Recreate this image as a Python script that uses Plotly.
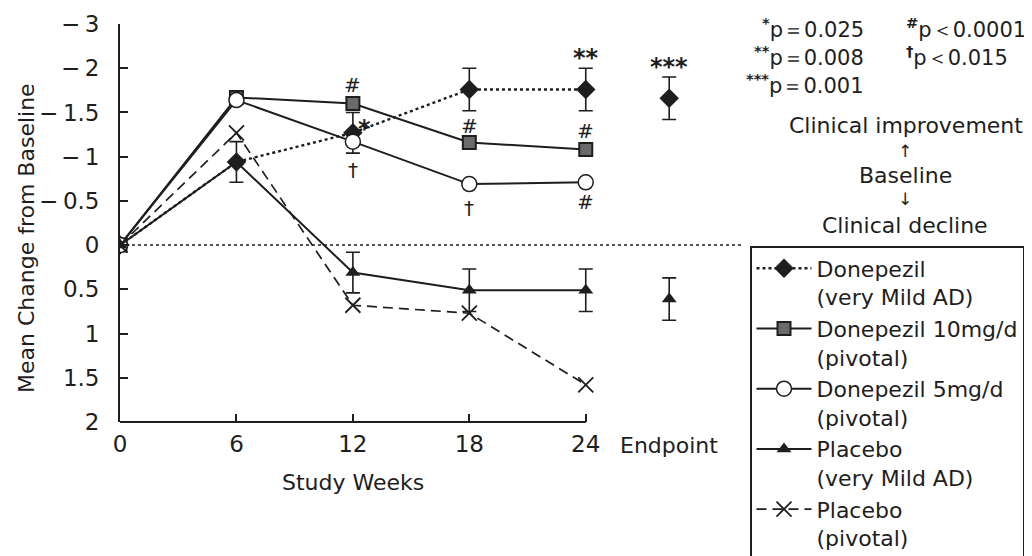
import plotly.graph_objects as go

# ---------------- data ----------------
weeks = [0, 6, 12, 18, 24]
x_tick_labels = ["0", "6", "12", "18", "24"]
endpoint_label = "Endpoint"
endpoint_week = 28.3

y_tick_vals = [-2.5, -2, -1.5, -1, -0.5, 0, 0.5, 1, 1.5, 2]
y_tick_text = ["\u2212\u20093", "\u2212\u20092", "\u2212\u20091.5", "\u2212\u20091", "\u2212\u20090.5",
               "0", "0.5", "1", "1.5", "2"]

don_mild = [0, -0.94, -1.27, -1.76, -1.76]
don_mild_err = [None, 0.23, 0.23, 0.24, 0.24]
don_mild_end = -1.66
don_mild_end_err = 0.24

don_10 = [0, -1.67, -1.60, -1.16, -1.08]
don_5 = [0, -1.64, -1.17, -0.69, -0.71]

plc_mild = [0, -0.94, 0.31, 0.51, 0.51]
plc_mild_err = [None, None, 0.23, 0.24, 0.24]
plc_mild_end = 0.61
plc_mild_end_err = 0.24

plc_piv = [0, -1.27, 0.68, 0.77, 1.58]

names = [
    "Donepezil<br>(very Mild AD)",
    "Donepezil 10mg/d<br>(pivotal)",
    "Donepezil 5mg/d<br>(pivotal)",
    "Placebo<br>(very Mild AD)",
    "Placebo<br>(pivotal)",
]

# ---------------- layout helpers ----------------
OFF = 8  # page body margin offset
W, H = 1032 - OFF, 556 - OFF
PL, PR, PT, PB = 120, 741, 24, 422        # plot area in window pixels
L, R, T, B = PL - OFF, W - (PR - OFF), PT - OFF, H - (PB - OFF)
PW, PH = PR - PL, PB - PT
FONT = "DejaVu Sans, Liberation Sans, Arial, sans-serif"
INK = "#1e1e1e"


def px(xp):
    return (xp - PL) / PW


def py(yp):
    return (PB - yp) / PH


fig = go.Figure()
line_w = 2


def err(arr):
    return dict(type="data", array=arr, visible=True, color=INK, thickness=1.6, width=7)


fig.add_trace(go.Scatter(x=weeks, y=don_mild, name=names[0], mode="lines+markers",
                         line=dict(color=INK, width=2.4, dash="dot"),
                         marker=dict(symbol="diamond", size=15, color=INK),
                         error_y=err(don_mild_err)))
fig.add_trace(go.Scatter(x=weeks, y=don_10, name=names[1], mode="lines+markers",
                         line=dict(color=INK, width=line_w),
                         marker=dict(symbol="square", size=13, color="#6a6a6a",
                                     line=dict(color=INK, width=2))))
fig.add_trace(go.Scatter(x=weeks, y=don_5, name=names[2], mode="lines+markers",
                         line=dict(color=INK, width=line_w),
                         marker=dict(symbol="circle", size=15, color="white",
                                     line=dict(color=INK, width=1.5))))
fig.add_trace(go.Scatter(x=weeks, y=plc_mild, name=names[3], mode="lines+markers",
                         line=dict(color=INK, width=line_w),
                         marker=dict(symbol="triangle-up", size=13, color=INK),
                         error_y=err(plc_mild_err)))
fig.add_trace(go.Scatter(x=weeks, y=plc_piv, name=names[4], mode="lines+markers",
                         line=dict(color=INK, width=1.7, dash="10px,6px"),
                         marker=dict(symbol="x-thin-open", size=15, color=INK,
                                     line=dict(color=INK, width=1.8))))

# endpoint points
fig.add_trace(go.Scatter(x=[endpoint_week], y=[don_mild_end], mode="markers", showlegend=False,
                         marker=dict(symbol="diamond", size=15, color=INK),
                         error_y=err([don_mild_end_err])))
fig.add_trace(go.Scatter(x=[endpoint_week], y=[plc_mild_end], mode="markers", showlegend=False,
                         marker=dict(symbol="triangle-up", size=13, color=INK),
                         error_y=err([plc_mild_end_err])))

shapes = [
    dict(type="line", xref="x", yref="y", x0=0, x1=32, y0=0, y1=0,
         line=dict(color=INK, width=1.5, dash="dot"), layer="below"),
    dict(type="line", xref="x", yref="paper", x0=weeks[0], x1=weeks[-1], y0=0, y1=0,
         line=dict(color=INK, width=1.8)),
]

annotations = []
sig_font = dict(family=FONT, size=20, color=INK)
star_font = dict(family=FONT, size=24, color=INK)


def sig(x, y, text, yshift, xshift=0, font=sig_font):
    annotations.append(dict(x=x, y=y, xref="x", yref="y", text=text, showarrow=False,
                            xanchor="center", yanchor="middle",
                            font=font, yshift=yshift, xshift=xshift))


sig(weeks[2], don_10[2], "#", 19)
sig(weeks[2], don_mild[2], "<b>*</b>", 4, 12, star_font)
sig(weeks[2], don_5[2], "\u2020", -28)
sig(weeks[3], don_10[3], "#", 17)
sig(weeks[3], don_5[3], "\u2020", -24)
sig(weeks[4], don_mild[4] - don_mild_err[4], "<b>**</b>", 10, 0, star_font)
sig(weeks[4], don_10[4], "#", 19)
sig(weeks[4], don_5[4], "#", -20)
sig(endpoint_week, don_mild_end - don_mild_end_err, "<b>***</b>", 10, 0, star_font)

txt = dict(family=FONT, size=22, color=INK)
key = dict(family=FONT, size=21, color=INK)


def note(xp, yp, text, xanchor="center", font=txt, angle=0):
    annotations.append(dict(x=px(xp), y=py(yp), xref="paper", yref="paper", text=text,
                            xanchor=xanchor, yanchor="middle", textangle=angle,
                            showarrow=False, font=font))


# axis titles and endpoint label
annotations.append(dict(x=(weeks[0] + weeks[-1]) / 2, y=py(482), xref="x", yref="paper",
                        text="Study Weeks", xanchor="center", yanchor="middle",
                        showarrow=False, font=txt))
annotations.append(dict(x=endpoint_week, y=py(445), xref="x", yref="paper", text=endpoint_label,
                        xanchor="center", yanchor="middle", showarrow=False, font=txt))
note(26, 238, "Mean Change from Baseline", angle=-90)

# p-value key
for t, yy in [("<sup><b>*</b></sup>p\uff1d0.025", 28), ("<sup><b>**</b></sup>p\uff1d0.008", 56),
              ("<sup><b>***</b></sup>p\uff1d0.001", 84)]:
    note(866, yy, t, "right", key)
for t, yy in [("<sup><b>#</b></sup>p\uff1c0.0001", 28), ("<sup><b>\u2020</b></sup>p\uff1c0.015", 56)]:
    note(904, yy, t, "left", key)

small = dict(family=FONT, size=17, color=INK)
note(906, 125, "Clinical improvement")
note(905, 151, "\u2191", font=small)
note(905, 175, "Baseline")
note(905, 199, "\u2193", font=small)
note(905, 225, "Clinical decline")

fig.update_layout(
    width=W, height=H,
    margin=dict(l=L, r=R, t=T, b=B, pad=0, autoexpand=False),
    paper_bgcolor="white", plot_bgcolor="white",
    font=dict(family=FONT, size=22, color=INK),
    shapes=shapes, annotations=annotations,
    legend=dict(x=px(750), y=py(246), xanchor="left", yanchor="top",
                bordercolor=INK, borderwidth=1.5, bgcolor="white",
                font=dict(family=FONT, size=22, color=INK), itemwidth=55,
                valign="top", tracegroupgap=0, traceorder="normal"),
    xaxis=dict(range=[0, 32], tickvals=weeks, ticktext=x_tick_labels, ticks="inside",
               ticklen=8, tickwidth=1.5, tickcolor=INK, showgrid=False, zeroline=False,
               showline=False, tickfont=dict(family=FONT, size=23, color=INK),
               ticklabelstandoff=6),
    yaxis=dict(range=[2, -2.5], tickvals=y_tick_vals, ticktext=y_tick_text, ticks="inside",
               ticklen=8, tickwidth=1.5, tickcolor=INK, showgrid=False, zeroline=False,
               showline=True, linecolor=INK, linewidth=1.8,
               tickfont=dict(family=FONT, size=23, color=INK), ticklabelstandoff=14),
    showlegend=True,
)

fig.write_html("out.html")
